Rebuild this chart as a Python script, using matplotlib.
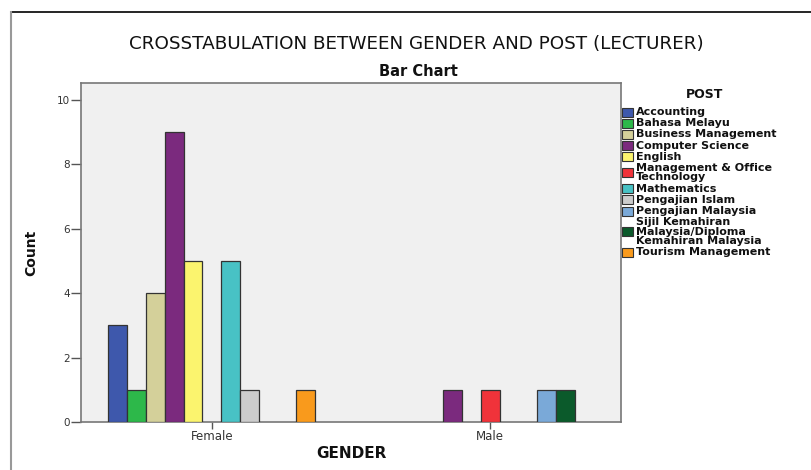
import matplotlib
matplotlib.use('Agg')
import matplotlib.pyplot as plt
import numpy as np
from matplotlib.patches import Rectangle
from matplotlib.lines import Line2D

genders = ['Female', 'Male']
posts = ['Accounting', 'Bahasa Melayu', 'Business Management', 'Computer Science',
         'English', 'Management & Office\nTechnology', 'Mathematics', 'Pengajian Islam',
         'Pengajian Malaysia', 'Sijil Kemahiran\nMalaysia/Diploma\nKemahiran Malaysia',
         'Tourism Management']
female_counts = [3, 1, 4, 9, 5, 0, 5, 1, 0, 0, 1]
male_counts = [0, 0, 0, 1, 0, 1, 0, 0, 1, 1, 0]
colors = ['#3E58AC', '#2DB84A', '#D4D09A', '#7B2A7E', '#FBF46E', '#F0333A',
          '#48C2C5', '#CCCCCC', '#7AA9D8', '#0B5A2B', '#F99A1C']
y_ticks = [0, 2, 4, 6, 8, 10]

W, H = 811, 470
fig = plt.figure(figsize=(W / 100, H / 100), dpi=100)
ax = fig.add_axes([81 / W, 1 - 422 / H, 540 / W, 339 / H])
ax.set_facecolor('#F0F0F0')

n = len(posts)
bw = 0.0675
x = np.arange(len(genders))
counts = np.array([female_counts, male_counts])
for i in range(n):
    offs = (i - (n - 1) / 2) * bw
    vals = counts[:, i]
    mask = vals > 0
    ax.bar(x[mask] + offs, vals[mask], width=bw, color=colors[i],
           edgecolor='#333333', linewidth=0.9, zorder=3)

ax.set_xlim(-0.47, 1.47)
ax.set_ylim(0, 10.53)
ax.set_xticks(x)
ax.set_xticklabels(genders)
ax.set_yticks(y_ticks)
ax.set_yticklabels([str(v) for v in y_ticks])
ax.tick_params(axis='y', direction='out', length=7, width=1, color='#555555',
               labelsize=7.5, labelcolor='#333333', pad=1)
ax.tick_params(axis='x', direction='out', length=5, width=1, color='#555555',
               labelsize=8.5, labelcolor='#333333', pad=1)
for s in ax.spines.values():
    s.set_color('#777777')
    s.set_linewidth(1.2)

ax.set_ylabel('Count', fontsize=10, fontweight='bold', color='#111111')
ax.yaxis.set_label_coords((38 - 81) / 540, 0.5)
ax.set_xlabel('GENDER', fontsize=11, fontweight='bold', color='#111111', va='center')
ax.xaxis.set_label_coords(0.5, (422 - 454) / 339)

fig.text(416 / W, 1 - 44 / H, 'CROSSTABULATION BETWEEN GENDER AND POST (LECTURER)',
         ha='center', va='center', fontsize=13.2, color='#111111')
fig.text(418 / W, 1 - 72 / H, 'Bar Chart', ha='center', va='center',
         fontsize=10.5, fontweight='bold', color='#111111')
fig.text(705 / W, 1 - 95 / H, 'POST', ha='center', va='center',
         fontsize=9, fontweight='bold', color='#111111')

# legend (manual layout)
ypos = 112 - 11.2
for i, lab in enumerate(posts):
    lines = lab.split('\n')
    ys = []
    for k, ln in enumerate(lines):
        ypos += 11.2 if k == 0 else 9.5
        ys.append(ypos)
        fig.text(636 / W, 1 - ypos / H, ln, ha='left', va='center', fontsize=8,
                 fontweight='bold', color='#111111')
    yc = np.mean(ys)
    fig.add_artist(Rectangle((622 / W, 1 - (yc + 4.5) / H), 11 / W, 9 / H,
                             facecolor=colors[i], edgecolor='#333333', linewidth=0.8,
                             transform=fig.transFigure))

fig.add_artist(Line2D([11 / W, 1], [1 - 12 / H, 1 - 12 / H], color='black', lw=1.2,
                      transform=fig.transFigure))
fig.add_artist(Line2D([11 / W, 11 / W], [0, 1 - 12 / H], color='#999999', lw=1.5,
                      transform=fig.transFigure))

fig.savefig('out.png', dpi=100)
